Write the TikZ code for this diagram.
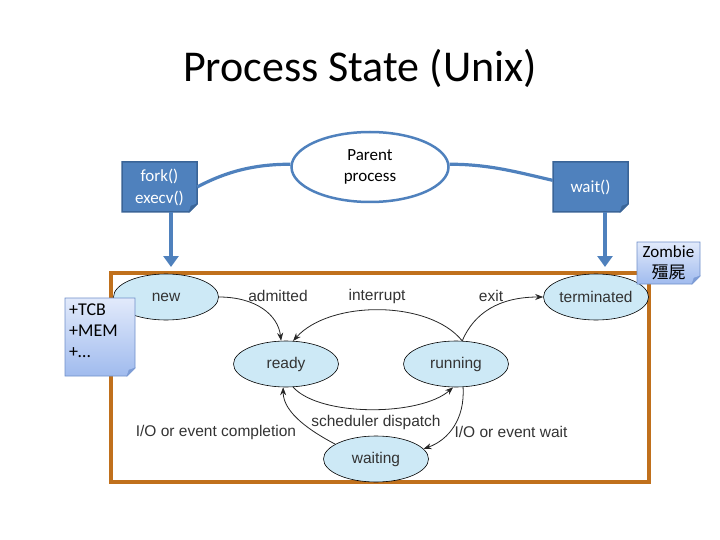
\documentclass[tikz,border=0pt]{standalone}
\usepackage{fontspec}
\setmainfont{Carlito}
\newfontfamily\statefont{Liberation Sans}
\newfontfamily\cjk{Noto Sans CJK TC}
\usetikzlibrary{calc,shapes.geometric,arrows.meta}
\definecolor{boxblue}{HTML}{4F81BD}
\definecolor{boxedge}{HTML}{3A6497}
\definecolor{boxfold}{HTML}{3B6699}
\definecolor{notetop}{HTML}{E2EAFB}
\definecolor{notebot}{HTML}{A0BBEE}
\definecolor{noteedge}{HTML}{6F8FC9}
\definecolor{notefold}{HTML}{7E9DD6}
\definecolor{statefill}{HTML}{CDE9F6}
\definecolor{framecol}{HTML}{C0701C}
% folded note: style, fold colour, centre, half width, half height
\def\dogear[#1][#2](#3)(#4:#5){\path[#1] ($(#3)+(-#4,-#5)$) -- ($(#3)+(#4,-#5)$) -- ($(#3)+(#4,#5-8)$) -- ($(#3)+(#4-8,#5)$) -- ($(#3)+(-#4,#5)$) -- cycle;
\filldraw[fill=#2, draw=#2] ($(#3)+(#4,#5-8)$) -- ($(#3)+(#4-8,#5)$) -- ($(#3)+(#4-6,#5-6)$) -- cycle;}

\begin{document}
\begin{tikzpicture}[x=1pt,y=-1pt,
	state/.style={ellipse, draw=black, line width=0.6pt, fill=statefill, minimum width=105pt, minimum height=46pt, inner sep=0pt, font=\statefont\fontsize{15.5}{17}\selectfont, text=black!80},
	trans/.style={-{Stealth[length=8pt,width=6pt]}, line width=0.8pt, black!85},
	lbl/.style={font=\statefont\fontsize{15.5}{17}\selectfont, text=black!80},
	darknote/.style={fill=boxblue, draw=boxedge, line width=1.5pt},
	lightnote/.style={top color=notetop, bottom color=notebot, draw=noteedge, line width=0.8pt},
	darktext/.style={align=center, text=white, inner sep=0pt, font=\fontsize{17}{22}\selectfont},
	lighttext/.style={align=center, text=black, inner sep=0pt, font=\fontsize{17}{21}\selectfont},
	link/.style={boxblue, line width=3.2pt},
	down/.style={boxblue, line width=3.5pt, -{Triangle[length=11pt,width=15pt]}}]
	\useasboundingbox (0,0) rectangle (720,540);

	%%%%% title %%%%%
	\node (title) at (360,68) {\fontsize{44}{50}\selectfont Process State (Unix)};

	%%%%% parent side %%%%%
	\node[ellipse, draw=boxblue, line width=2.5pt, fill=white, minimum width=157pt, minimum height=70pt, inner sep=0pt, align=center, font=\fontsize{17}{21}\selectfont] (parent) at (370,167) {Parent\\process};

	\dogear[darknote][boxfold](159.5,187)(37.5:25);
	\node[darktext, minimum width=75pt, minimum height=50pt] (fork) at (159.5,187) {fork()\\execv()};
	\dogear[darknote][boxfold](590.5,187)(37.5:25);
	\node[darktext, minimum width=75pt, minimum height=50pt] (wait) at (590.5,187) {wait()};

	\draw[link] (fork.east) .. controls +(30,-16) and +(-35,0) .. (parent.178);
	\draw[link] (parent.2) .. controls +(40,0) and +(-35,-8) .. (wait.170);

	\coordinate (forkin) at (171,267);
	\coordinate (waitin) at (605,267);
	\draw[down] (fork.south -| forkin) -- (forkin);
	\draw[down] (wait.south -| waitin) -- (waitin);

	%%%%% state diagram %%%%%
	\draw[framecol, line width=4pt] (111,273) rectangle (649,482);

	\node[state] (new) at (166,297) {new};
	\node[state] (terminated) at (596,297) {terminated};
	\node[state] (ready) at (286,364) {ready};
	\node[state] (running) at (456,364) {running};
	\node[state] (waiting) at (376,459) {waiting};

	\draw[trans] (new.east) .. controls +(37,0) and +(-3,-26) .. (ready.102);
	\draw[trans] (running.75) .. controls +(-33,-41) and +(37,-41) .. (ready.73);
	\draw[trans] (running.75) .. controls +(12,-28) and +(-44,0) .. (terminated.west);
	\draw[trans] (ready.-73) .. controls +(27,30) and +(-33,29) .. (running.-97);
	\draw[trans] (running.-73) .. controls +(2,32) and +(25,-9) .. (waiting.12);
	\draw[trans] (waiting.160) .. controls +(-23,-12) and +(0,26) .. (ready.-97);

	\node[lbl] (admitted) at (278,296) {admitted};
	\node[lbl] (interrupt) at (377,296) {interrupt};
	\node[lbl] (exit) at (491,296) {exit};
	\node[lbl] (dispatch) at (376,422) {scheduler dispatch};
	\node[lbl] (completion) at (216,432) {I/O or event completion};
	\node[lbl] (iowait) at (511,432) {I/O or event wait};

	%%%%% notes %%%%%
	\dogear[lightnote][notefold](668.5,263)(31.5:21);
	\node[lighttext] (zombie) at (668.5,263) {Zombie\\{\cjk 殭屍}};
	\dogear[lightnote][notefold](100,337)(35:39);
	\node[lighttext, align=left, anchor=west, font=\fontsize{18}{21}\selectfont] (tcb) at (69,331) {+TCB\\+MEM\\+…};
\end{tikzpicture}
\end{document}
